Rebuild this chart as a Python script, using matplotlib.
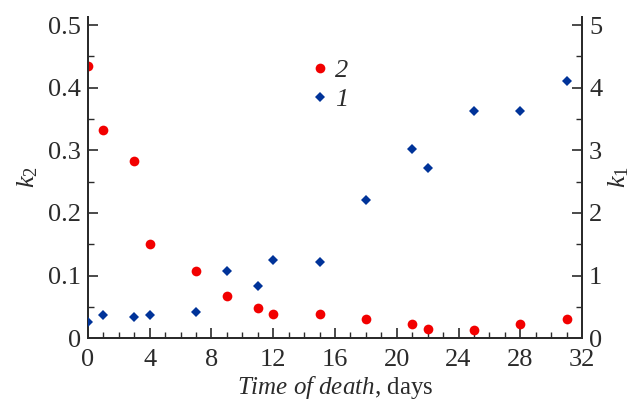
import matplotlib
matplotlib.use("Agg")
import matplotlib.pyplot as plt
from matplotlib.ticker import MultipleLocator
from matplotlib.lines import Line2D

days = [0, 1, 3, 4, 7, 9, 11, 12, 15, 18, 21, 22, 25, 28, 31]
k2 = [0.435, 0.332, 0.283, 0.150, 0.107, 0.067, 0.048, 0.039, 0.039, 0.030, 0.023, 0.014, 0.013, 0.023, 0.030]
k1 = [0.26, 0.37, 0.33, 0.37, 0.42, 1.07, 0.84, 1.25, 1.21, 2.21, 3.02, 2.72, 3.62, 3.63, 4.10]
x_ticks = [0, 4, 8, 12, 16, 20, 24, 28, 32]
k2_ticks = [0, 0.1, 0.2, 0.3, 0.4, 0.5]
k2_tick_labels = ["0", "0.1", "0.2", "0.3", "0.4", "0.5"]
k1_ticks = [0, 1, 2, 3, 4, 5]

plt.rcParams['font.family'] = ['Liberation Serif', 'DejaVu Serif']
plt.rcParams['mathtext.fontset'] = 'custom'
plt.rcParams['mathtext.rm'] = 'Liberation Serif'
plt.rcParams['mathtext.it'] = 'Liberation Serif:italic'

RED = '#f20000'
BLUE = '#003399'
INK = '#2b2b2b'

fig = plt.figure(figsize=(6.32, 4.03), dpi=100)
ax = fig.add_axes([0.139, 0.161, 0.782, 0.797])
ax2 = ax.twinx()

ax.plot(days, k2, 'o', color=RED, markersize=7, markeredgewidth=0, zorder=3)
ax2.plot(days, k1, 'D', color=BLUE, markersize=4.6, markeredgewidth=0, zorder=3)

ax.set_xlim(0, 32)
ax.set_ylim(0, 0.513)
ax2.set_ylim(0, 5.13)

ax.set_xticks(x_ticks)
ax.xaxis.set_minor_locator(MultipleLocator(1))
ax.set_yticks(k2_ticks)
ax.set_yticklabels(k2_tick_labels)
ax.yaxis.set_minor_locator(MultipleLocator(0.05))
ax2.set_yticks(k1_ticks)
ax2.yaxis.set_minor_locator(MultipleLocator(0.5))

for a in (ax, ax2):
    a.spines['top'].set_visible(False)
    for s in a.spines.values():
        s.set_color(INK)
        s.set_linewidth(1.4)
    a.tick_params(which='both', direction='in', color=INK, labelcolor=INK, labelsize=19)
    a.tick_params(which='major', length=7, width=1.2)
    a.tick_params(which='minor', length=4, width=1.0)

ax.tick_params(axis='x', pad=8)
ax.tick_params(axis='y', pad=5)
ax2.tick_params(axis='y', pad=5)

ax.set_ylabel(r'$k_2$', fontsize=19, color=INK, labelpad=6)
ax2.set_ylabel(r'$k_1$', fontsize=19, color=INK, labelpad=3)
ax.set_xlabel(r'$Time\ of\ death$, days', fontsize=18, color=INK, labelpad=2)

handles = [Line2D([], [], ls='none', marker='o', color=RED, markersize=7, markeredgewidth=0),
           Line2D([], [], ls='none', marker='D', color=BLUE, markersize=4.6, markeredgewidth=0)]
leg = ax.legend(handles, ['2', '1'], loc='upper left', bbox_to_anchor=(0.43, 0.91),
                frameon=False, handlelength=0.5, handletextpad=0.3, labelspacing=0.2,
                borderpad=0, prop={'family': 'Liberation Serif', 'style': 'italic', 'size': 19})
for t in leg.get_texts():
    t.set_color(INK)

fig.savefig('out.png', dpi=100)
